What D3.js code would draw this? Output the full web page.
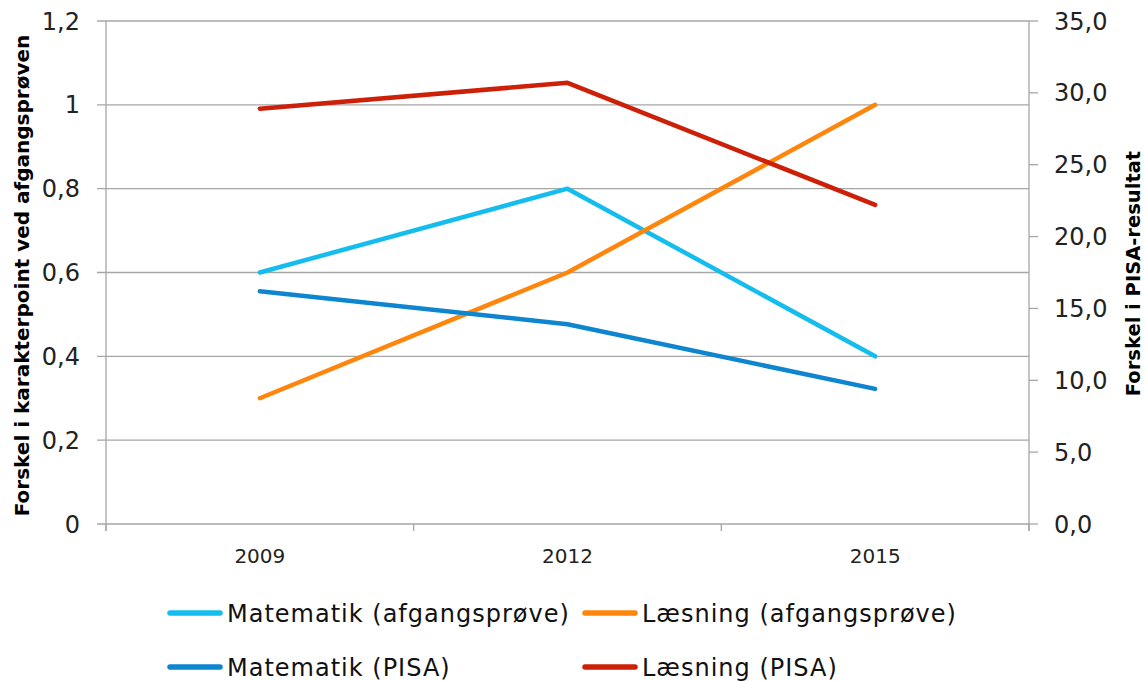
<!DOCTYPE html>
<html>
<head>
<meta charset="utf-8">
<script src="https://cdn.jsdelivr.net/npm/d3@7"></script>
<style>
  body { margin: 0; background: #fff; }
  svg { display: block; font-family: "DejaVu Sans", sans-serif; }
</style>
</head>
<body>
<div id="chart"></div>
<script>
// data
const years = ['2009', '2012', '2015'];
const matAfgang = [0.6, 0.8, 0.4];
const laesAfgang = [0.3, 0.6, 1.0];
const matPisa = [16.2, 13.9, 9.4];
const laesPisa = [28.9, 30.7, 22.2];
const leftTicks = [0, 0.2, 0.4, 0.6, 0.8, 1, 1.2];
const rightTicks = [0, 5, 10, 15, 20, 25, 30, 35];

const series = [
  { name: 'Matematik (afgangsprøve)', values: matAfgang, axis: 'left', color: '#14BDEE' },
  { name: 'Læsning (afgangsprøve)', values: laesAfgang, axis: 'left', color: '#FF860D' },
  { name: 'Matematik (PISA)', values: matPisa, axis: 'right', color: '#0E86CF' },
  { name: 'Læsning (PISA)', values: laesPisa, axis: 'right', color: '#CC2008' }
];

const W = 1146, H = 681;
const m = { top: 21, right: 117, bottom: 157, left: 106 };
const iw = W - m.left - m.right, ih = H - m.top - m.bottom;

const svg = d3.select('#chart').append('svg').attr('width', W).attr('height', H);
const g = svg.append('g').attr('transform', `translate(${m.left},${m.top})`);

const x = d3.scaleBand().domain(years).range([0, iw]);
const yL = d3.scaleLinear().domain([0, 1.2]).range([ih, 0]);
const yR = d3.scaleLinear().domain([0, 35]).range([ih, 0]);

const grid = '#a6a6a6';

// gridlines (left axis)
g.append('g').selectAll('line').data(leftTicks).join('line')
  .attr('x1', -9).attr('x2', iw)
  .attr('y1', d => yL(d)).attr('y2', d => yL(d))
  .attr('stroke', grid).attr('stroke-width', 1.3);

// left axis
const fmtL = d => d3.format('.1f')(d).replace('.', ',');
g.append('line').attr('x1', 0).attr('x2', 0).attr('y1', 0).attr('y2', ih + 7)
  .attr('stroke', grid).attr('stroke-width', 1.3);
g.append('g').selectAll('text').data(leftTicks).join('text')
  .attr('x', -26).attr('y', d => yL(d)).attr('dy', '0.36em')
  .attr('text-anchor', 'end').attr('font-size', 24).attr('fill', '#222')
  .text(d => d === 0 ? '0' : d === 1 ? '1' : fmtL(d));

// right axis
g.append('line').attr('x1', iw).attr('x2', iw).attr('y1', 0).attr('y2', ih + 7)
  .attr('stroke', grid).attr('stroke-width', 1.3);
g.append('g').selectAll('line').data(rightTicks).join('line')
  .attr('x1', iw).attr('x2', iw + 9)
  .attr('y1', d => yR(d)).attr('y2', d => yR(d))
  .attr('stroke', grid).attr('stroke-width', 1.3);
g.append('g').selectAll('text').data(rightTicks).join('text')
  .attr('x', iw + 25).attr('y', d => yR(d)).attr('dy', '0.36em')
  .attr('font-size', 24).attr('fill', '#222')
  .text(d => d3.format('.1f')(d).replace('.', ','));

// x axis ticks at band edges
const edges = years.map(d => x(d)).concat([iw]);
g.append('g').selectAll('line').data(edges).join('line')
  .attr('x1', d => d).attr('x2', d => d).attr('y1', ih).attr('y2', ih + 7)
  .attr('stroke', grid).attr('stroke-width', 1.3);
g.append('g').selectAll('text').data(years).join('text')
  .attr('x', d => x(d) + x.bandwidth() / 2).attr('y', ih + 39)
  .attr('text-anchor', 'middle').attr('font-size', 20).attr('fill', '#222')
  .text(d => d);

// axis titles
svg.append('text')
  .attr('transform', `translate(29,${m.top + ih / 2 + 3}) rotate(-90)`)
  .attr('text-anchor', 'middle').attr('font-size', 20).attr('font-weight', 'bold')
  .text('Forskel i karakterpoint ved afgangsprøven');
svg.append('text')
  .attr('transform', `translate(1140,${m.top + ih / 2 + 1}) rotate(-90)`)
  .attr('text-anchor', 'middle').attr('font-size', 19.5).attr('font-weight', 'bold')
  .text('Forskel i PISA-resultat');

// lines
const cx = d => x(d) + x.bandwidth() / 2;
series.forEach(s => {
  const ys = s.axis === 'left' ? yL : yR;
  const line = d3.line().x((d, i) => cx(years[i])).y(d => ys(d));
  g.append('path').datum(s.values)
    .attr('d', line).attr('fill', 'none')
    .attr('stroke', s.color).attr('stroke-width', 4.5)
    .attr('stroke-linecap', 'round').attr('stroke-linejoin', 'round');
});

// legend
const legPos = [[168, 613], [583, 613], [168, 667], [583, 667]];
const leg = svg.append('g').selectAll('g').data(series).join('g')
  .attr('transform', (d, i) => `translate(${legPos[i][0]},${legPos[i][1]})`);
leg.append('line').attr('x1', 2).attr('x2', 52)
  .attr('stroke', d => d.color).attr('stroke-width', 5.5).attr('stroke-linecap', 'round');
leg.append('text').attr('x', 59).attr('dy', '0.36em')
  .attr('font-size', 24).attr('letter-spacing', 1).attr('fill', '#111').text(d => d.name);
</script>
</body>
</html>
